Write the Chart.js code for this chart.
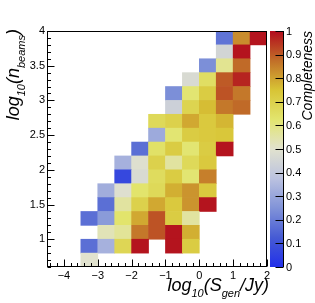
<!DOCTYPE html>
<html>
<head>
<meta charset="utf-8">
<script src="https://cdn.jsdelivr.net/npm/chart.js@4/dist/chart.umd.min.js"></script>
<style>
  html, body { margin: 0; padding: 0; background: #fff; }
</style>
</head>
<body>
<canvas id="completenessMap" width="315" height="303"></canvas>
<script>
// bin centres along log10(S_gen/Jy), bin edges along log10(n_beams)
const xCenters = [-4.25, -3.75, -3.25, -2.75, -2.25, -1.75, -1.25, -0.75, -0.25, 0.25, 0.75, 1.25, 1.75];
const yEdges = [0.6, 0.8, 1.0, 1.2, 1.4, 1.6, 1.8, 2.0, 2.2, 2.4, 2.6, 2.8, 3.0, 3.2, 3.4, 3.6, 3.8, 4.0];

// completeness per cell, one row per y bin (bottom row first)
const completeness = [
  [null, null, 0.50, null, null, null, null, null, null, null, null, null, null],
  [null, null, 0.17, 0.33, 0.68, 0.99, null, 0.99, 0.72, null, null, null, null],
  [null, null, null, 0.53, 0.57, 0.86, 0.91, 0.99, 0.78, null, null, null, null],
  [null, null, 0.17, 0.27, 0.63, 0.79, 0.91, 0.72, 0.56, null, null, null, null],
  [null, null, null, 0.17, 0.56, 0.70, 0.79, 0.73, 0.82, 0.99, null, null, null],
  [null, null, null, 0.32, 0.49, 0.63, 0.67, 0.78, 0.82, 0.73, null, null, null],
  [null, null, null, null, 0.07, 0.47, 0.66, 0.72, 0.62, 0.85, null, null, null],
  [null, null, null, null, 0.33, 0.49, 0.70, 0.56, 0.67, 0.73, null, null, null],
  [null, null, null, null, null, 0.17, 0.64, 0.72, 0.62, 0.72, 0.99, null, null],
  [null, null, null, null, null, null, 0.31, 0.62, 0.72, 0.73, 0.74, null, null],
  [null, null, null, null, null, null, 0.67, 0.70, 0.79, 0.73, 0.77, null, null],
  [null, null, null, null, null, null, null, 0.43, 0.69, 0.76, 0.86, 0.88, null],
  [null, null, null, null, null, null, null, 0.24, 0.62, 0.72, 0.91, 0.86, null],
  [null, null, null, null, null, null, null, null, 0.47, 0.65, 0.90, 0.97, null],
  [null, null, null, null, null, null, null, null, null, 0.24, 0.58, 0.88, null],
  [null, null, null, null, null, null, null, null, null, null, 0.45, 0.99, null],
  [null, null, null, null, null, null, null, null, null, null, 0.18, 0.83, 0.99]
];

const xTicks = [-4, -3, -2, -1, 0, 1, 2];
const yTicks = [1, 1.5, 2, 2.5, 3, 3.5, 4];
const zTicks = [0, 0.1, 0.2, 0.3, 0.4, 0.5, 0.6, 0.7, 0.8, 0.9, 1];

// temperature-map palette stops
const paletteStops = [0, 0.125, 0.25, 0.375, 0.5, 0.625, 0.75, 0.875, 1];
const paletteRed   = [34, 70, 129, 187, 225, 226, 216, 193, 179];
const paletteGreen = [48, 91, 147, 194, 226, 229, 196, 110, 12];
const paletteBlue  = [234, 212, 216, 224, 206, 110, 53, 40, 29];

function paletteColor(v) {
  let k = 0;
  while (k < paletteStops.length - 2 && v > paletteStops[k + 1]) k++;
  const t = (v - paletteStops[k]) / (paletteStops[k + 1] - paletteStops[k]);
  const c = [paletteRed, paletteGreen, paletteBlue].map(ch => Math.round(ch[k] + (ch[k + 1] - ch[k]) * t));
  return 'rgb(' + c[0] + ',' + c[1] + ',' + c[2] + ')';
}

const fmt = v => String(v).replace('-', '\u2212');
const FONT = "'Liberation Sans', Arial, sans-serif";

// one floating-bar dataset per y row
const datasets = completeness.map((row, r) => {
  const pts = [];
  const cols = [];
  row.forEach((v, i) => {
    if (v === null) return;
    pts.push({ x: xCenters[i], y: [yEdges[r], yEdges[r + 1]] });
    cols.push(paletteColor(v));
  });
  return {
    data: pts,
    backgroundColor: cols,
    borderWidth: 0,
    grouped: false,
    barPercentage: 1,
    categoryPercentage: 1
  };
});

function drawParts(ctx, parts, x, y) {
  let cx = x;
  parts.forEach(p => {
    ctx.font = p.font;
    ctx.fillText(p.t, cx, y + (p.dy || 0));
    cx += ctx.measureText(p.t).width;
  });
}
function partsWidth(ctx, parts) {
  let w = 0;
  parts.forEach(p => { ctx.font = p.font; w += ctx.measureText(p.t).width; });
  return w;
}

const frameAndKey = {
  id: 'frameAndKey',
  afterDraw(chart) {
    const { ctx, chartArea: a, scales: { x, y } } = chart;
    ctx.save();
    ctx.strokeStyle = '#000';
    ctx.fillStyle = '#000';
    ctx.lineWidth = 1;

    // frame
    const L = Math.round(a.left) + 0.5, R = Math.round(a.right) - 0.5;
    const T = Math.round(a.top) + 0.5, B = Math.round(a.bottom) - 0.5;
    ctx.strokeRect(L, T, R - L, B - T);

    // inward ticks
    ctx.beginPath();
    for (let k = -22; k <= 10; k++) {
      const v = k * 0.2;
      const px = Math.round(x.getPixelForValue(v)) + 0.5;
      const len = (k % 5 === 0) ? 7 : 3.5;
      ctx.moveTo(px, B); ctx.lineTo(px, B - len);
    }
    for (let k = 6; k <= 40; k++) {
      const v = k * 0.1;
      const py = Math.round(y.getPixelForValue(v)) + 0.5;
      const len = (k % 5 === 0) ? 7 : 3.5;
      ctx.moveTo(L, py); ctx.lineTo(L + len, py);
    }
    ctx.stroke();

    // colour bar
    const bx0 = a.right + 3, bx1 = a.right + 17;
    const grad = ctx.createLinearGradient(0, a.bottom, 0, a.top);
    paletteStops.forEach((s, k) => grad.addColorStop(s, 'rgb(' + paletteRed[k] + ',' + paletteGreen[k] + ',' + paletteBlue[k] + ')'));
    ctx.fillStyle = grad;
    ctx.fillRect(bx0, a.top, bx1 - bx0, a.bottom - a.top);

    const axX = Math.round(bx1) - 0.5;
    ctx.beginPath();
    ctx.moveTo(axX, a.top); ctx.lineTo(axX, a.bottom);
    zTicks.forEach(v => {
      const py = Math.round(a.bottom - v * (a.bottom - a.top)) + 0.5;
      ctx.moveTo(axX, py); ctx.lineTo(axX - 8, py);
    });
    ctx.stroke();

    ctx.fillStyle = '#000';
    ctx.font = '11px ' + FONT;
    ctx.textAlign = 'left';
    ctx.textBaseline = 'middle';
    zTicks.forEach(v => {
      const py = a.bottom - v * (a.bottom - a.top);
      ctx.fillText(String(v), axX + 2.5, py + 0.5);
    });

    // axis titles
    const main = 'italic 18px ' + FONT;
    const sub = 'italic 11px ' + FONT;
    ctx.textBaseline = 'alphabetic';
    ctx.textAlign = 'left';
    const xTitle = [
      { t: 'log', font: main }, { t: '10', font: sub, dy: 6 },
      { t: '(S', font: main }, { t: 'gen', font: sub, dy: 6 },
      { t: '/Jy)', font: main }
    ];
    drawParts(ctx, xTitle, 269 - partsWidth(ctx, xTitle), 291);

    const yTitle = [
      { t: 'log', font: main }, { t: '10', font: sub, dy: 6 },
      { t: '(n', font: main }, { t: 'beams', font: sub, dy: 6 },
      { t: ')', font: main }
    ];
    ctx.save();
    ctx.translate(19, 29);
    ctx.rotate(-Math.PI / 2);
    drawParts(ctx, yTitle, -partsWidth(ctx, yTitle), 0);
    ctx.restore();

    ctx.save();
    ctx.translate(312, 31);
    ctx.rotate(-Math.PI / 2);
    ctx.font = 'italic 14px ' + FONT;
    ctx.textAlign = 'right';
    ctx.fillText('Completeness', 0, 0);
    ctx.restore();

    ctx.restore();
  }
};

const ctx = document.getElementById('completenessMap').getContext('2d');
const completenessChart = new Chart(ctx, {
  type: 'bar',
  data: { datasets: datasets },
  options: {
    responsive: false,
    animation: false,
    events: [],
    layout: { padding: { left: 0, top: 31, right: 48, bottom: 0 } },
    plugins: { legend: { display: false }, tooltip: { enabled: false } },
    scales: {
      x: {
        type: 'linear',
        min: -4.5,
        max: 2,
        offset: false,
        grid: { display: false, drawTicks: false, offset: false },
        border: { display: false },
        afterBuildTicks: s => { s.ticks = xTicks.map(v => ({ value: v })); },
        afterFit: s => { s.height = 36; },
        ticks: {
          autoSkip: false, maxRotation: 0, padding: 2, color: '#000',
          font: { size: 11, family: FONT },
          callback: v => fmt(v)
        }
      },
      y: {
        type: 'linear',
        min: 0.6,
        max: 4,
        grid: { display: false, drawTicks: false },
        border: { display: false },
        afterBuildTicks: s => { s.ticks = yTicks.map(v => ({ value: v })); },
        afterFit: s => { s.width = 47; },
        ticks: {
          autoSkip: false, padding: 2, color: '#000',
          font: { size: 11, family: FONT },
          callback: v => fmt(v)
        }
      }
    }
  },
  plugins: [frameAndKey]
});
</script>
</body>
</html>
